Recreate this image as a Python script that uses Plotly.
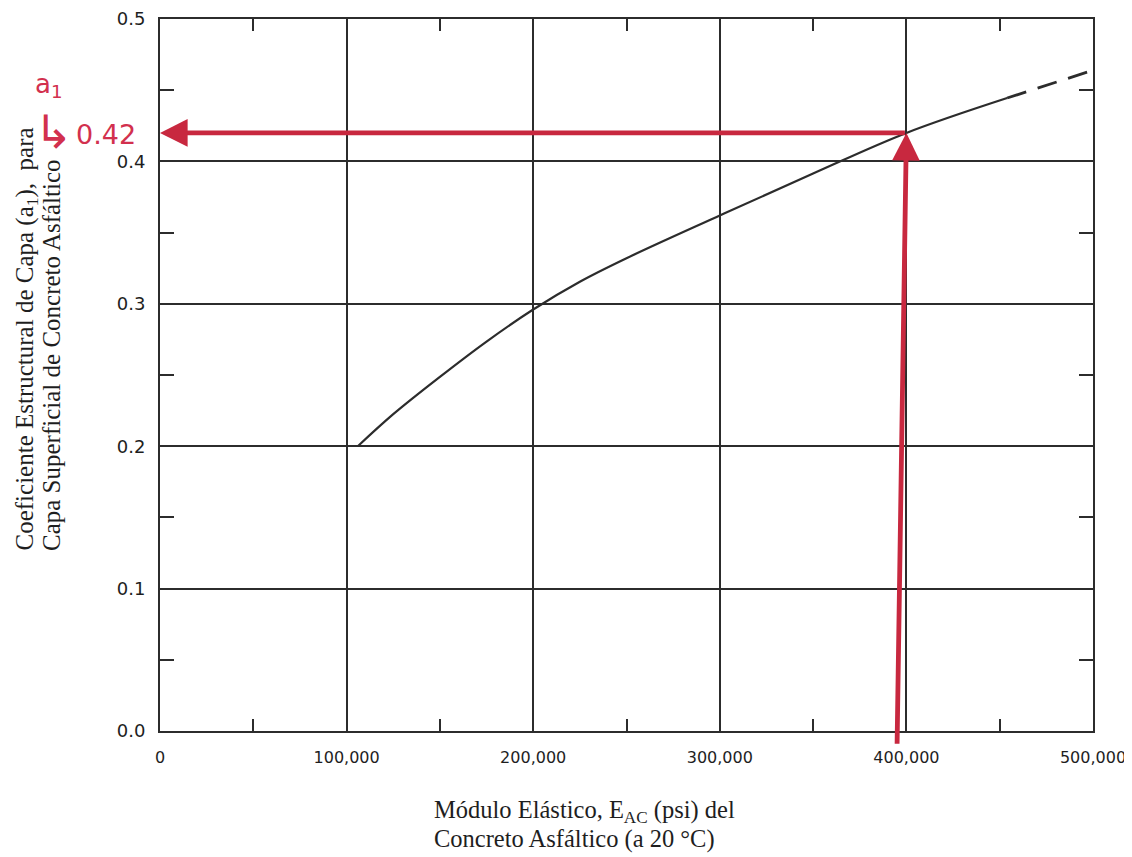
import plotly.graph_objects as go

# ---- data ----
modulus_solid = [106000, 125000, 150000, 175000, 200000, 225000, 250000, 300000, 350000, 400000, 454000]
a1_solid = [0.200, 0.2225, 0.2487, 0.2735, 0.2960, 0.3155, 0.3320, 0.3620, 0.3915, 0.4200, 0.4445]
modulus_dashed = [454000, 478000, 500000]
a1_dashed = [0.4445, 0.4545, 0.4640]

x_tick_vals = [0, 100000, 200000, 300000, 400000, 500000]
x_tick_text = ["0", "100,000", "200,000", "300,000", "400,000", "500,000"]
x_minor_vals = [50000, 150000, 250000, 350000, 450000]
y_tick_vals = [0.0, 0.1, 0.2, 0.3, 0.4, 0.5]
y_tick_text = ["0.0", "0.1", "0.2", "0.3", "0.4", "0.5"]
y_minor_vals = [0.05, 0.15, 0.25, 0.35, 0.45]

read_modulus = 400000
read_modulus_base = 395000
read_a1 = 0.42
read_label = "0.42"

INK = "#2c2c2c"
RED = "#c8283f"
PEN = "#d2304e"

# page layout: plot area in page pixels (page body has an 8px margin)
BODY = 8
PLOT_L, PLOT_R, PLOT_T, PLOT_B = 160, 1093, 19, 731
PW, PH = PLOT_R - PLOT_L, PLOT_B - PLOT_T


def px(xp):
    return (xp - PLOT_L) / PW


def py(yp):
    return (PLOT_B - yp) / PH


fig = go.Figure()
fig.add_trace(go.Scatter(x=modulus_solid, y=a1_solid, mode="lines",
                         line=dict(color=INK, width=2.2, shape="spline", smoothing=1.0),
                         showlegend=False, hoverinfo="skip"))
fig.add_trace(go.Scatter(x=modulus_dashed, y=a1_dashed, mode="lines",
                         line=dict(color=INK, width=2.8, dash="20px,12px"),
                         showlegend=False, hoverinfo="skip"))

axis_common = dict(showline=True, linecolor=INK, linewidth=2, mirror="allticks",
                   showgrid=True, gridcolor=INK, gridwidth=1.8, zeroline=False,
                   ticks="", automargin=False)

fig.update_xaxes(range=[0, 500000], tickmode="array", tickvals=x_tick_vals, ticktext=x_tick_text,
                 tickfont=dict(family="DejaVu Sans", size=16, color="#1e1e1e"),
                 ticklabelstandoff=11,
                 minor=dict(tickmode="array", tickvals=x_minor_vals, ticks="inside", ticklen=12,
                            tickwidth=1.8, tickcolor=INK, showgrid=False),
                 **axis_common)
fig.update_yaxes(range=[0, 0.5], tickmode="array", tickvals=y_tick_vals, ticktext=y_tick_text,
                 tickfont=dict(family="DejaVu Sans", size=18, color="#1e1e1e"),
                 ticklabelstandoff=9,
                 minor=dict(tickmode="array", tickvals=y_minor_vals, ticks="inside", ticklen=14,
                            tickwidth=1.8, tickcolor=INK, showgrid=False),
                 **axis_common)

title_font = dict(family="Liberation Serif", size=24.5, color="#1e1e1e")
ytitle_font = dict(family="Liberation Serif", size=25, color="#1e1e1e")

annotations = [
    # horizontal red arrow to the a1 axis
    dict(x=0, y=read_a1, ax=read_modulus, ay=read_a1, xref="x", yref="y", axref="x", ayref="y",
         text="", showarrow=True, arrowhead=2, arrowsize=1.15, arrowwidth=4.8, arrowcolor=RED),
    # vertical red arrow up from the modulus axis
    dict(x=read_modulus, y=read_a1, ax=read_modulus_base, ay=-0.01, xref="x", yref="y",
         axref="x", ayref="y", text="", showarrow=True, arrowhead=2, arrowsize=1.15,
         arrowwidth=4.8, arrowcolor=RED),
    # handwritten labels
    dict(x=px(33), y=py(86), xref="paper", yref="paper", text="a<sub>1</sub>", showarrow=False,
         font=dict(family="DejaVu Sans", size=26, color=PEN), xanchor="left", yanchor="middle"),
    dict(x=px(53), y=py(132), xref="paper", yref="paper", text="↳", showarrow=False,
         font=dict(family="DejaVu Sans", size=46, color=PEN), xanchor="center", yanchor="middle"),
    dict(x=px(74), y=py(134), xref="paper", yref="paper", text=read_label, showarrow=False,
         font=dict(family="DejaVu Sans", size=27, color=PEN), xanchor="left", yanchor="middle"),
    # x title (two left-aligned lines)
    dict(x=px(432), y=py(811), xref="paper", yref="paper",
         text="Módulo Elástico, E<sub>AC</sub> (psi) del", showarrow=False,
         font=title_font, xanchor="left", yanchor="middle"),
    dict(x=px(432), y=py(839), xref="paper", yref="paper",
         text="Concreto Asfáltico (a 20 °C)", showarrow=False,
         font=title_font, xanchor="left", yanchor="middle"),
    # y title (two rotated lines starting at the same height)
    dict(x=px(26), y=py(553), xref="paper", yref="paper",
         text="Coeficiente Estructural de Capa (a<sub>1</sub>),  para", showarrow=False, textangle=-90,
         font=ytitle_font, xanchor="center", yanchor="bottom"),
    dict(x=px(51), y=py(553), xref="paper", yref="paper",
         text="Capa Superficial de Concreto Asfáltico", showarrow=False, textangle=-90,
         font=ytitle_font, xanchor="center", yanchor="bottom"),
]

fig.update_layout(width=1132 - BODY, height=857 - BODY,
                  margin=dict(l=PLOT_L - BODY, r=1132 - PLOT_R, t=PLOT_T - BODY, b=857 - PLOT_B),
                  paper_bgcolor="white", plot_bgcolor="white", annotations=annotations,
                  showlegend=False)

fig.write_html("out.html")
